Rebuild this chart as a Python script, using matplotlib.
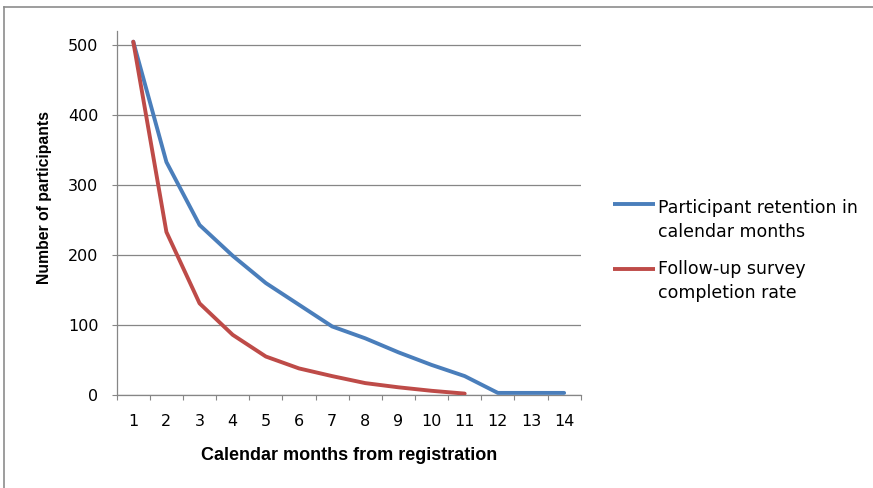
import numpy as np
import matplotlib.pyplot as plt
from matplotlib.lines import Line2D

# Participants remaining per calendar month since registration
months = [1, 2, 3, 4, 5, 6, 7, 8, 9, 10, 11, 12, 13, 14]
retention = [505, 333, 243, 199, 160, 129, 98, 81, 61, 43, 27, 3, 3, 3]

# Follow-up survey completions (only recorded up to month 11)
survey_months = [1, 2, 3, 4, 5, 6, 7, 8, 9, 10, 11]
survey = [505, 233, 131, 86, 55, 38, 27, 17, 11, 6, 2]

y_ticks = [0, 100, 200, 300, 400, 500]

series_names = ["Participant retention in\ncalendar months",
                "Follow-up survey\ncompletion rate"]
colors = ["#4A7EBB", "#BE4B48"]
grey = "#868686"

W, H = 873, 488
fig = plt.figure(figsize=(W / 100, H / 100), dpi=100, facecolor="white")


def fx(px):
    return px / W


def fy(py):
    return 1 - py / H


# plot area in pixel terms: left 116.7, right 580.7, top 30.5, bottom 395
ax = fig.add_axes([fx(116.7), fy(395), (580.7 - 116.7) / W, (395 - 30.5) / H])

ax.plot(months, retention, color=colors[0], lw=2.8, solid_capstyle="round",
        solid_joinstyle="round", zorder=3)
ax.plot(survey_months, survey, color=colors[1], lw=2.8, solid_capstyle="round",
        solid_joinstyle="round", zorder=3)

ax.set_xlim(0.5, 14.5)
ax.set_ylim(0, 521)

# category labels sit between the tick marks
ax.set_xticks(months)
ax.set_xticklabels([str(m) for m in months])
ax.set_xticks(np.arange(0.5, 15, 1), minor=True)
ax.tick_params(axis="x", which="major", length=0, pad=13.5, labelsize=11.5,
               labelcolor="black")
ax.tick_params(axis="x", which="minor", length=3.6, width=0.8, color=grey,
               direction="out")

ax.set_yticks(y_ticks)
ax.tick_params(axis="y", length=3.6, width=0.8, color=grey, direction="out",
               pad=9.5, labelsize=11.5, labelcolor="black")

ax.yaxis.grid(True, color=grey, lw=0.9)
ax.set_axisbelow(True)

for side in ["top", "right"]:
    ax.spines[side].set_visible(False)
for side in ["left", "bottom"]:
    ax.spines[side].set_color(grey)
    ax.spines[side].set_linewidth(0.9)

ax.set_xlabel("Calendar months from registration", fontsize=13,
              fontweight="bold", family="Liberation Sans")
ax.xaxis.set_label_coords(0.5, -(456 - 395) / (395 - 30.5))
ax.xaxis.label.set_va("center")

ax.set_ylabel("Number of participants", fontsize=11.3, fontweight="bold",
              family="Liberation Sans")
ax.yaxis.set_label_coords((45 - 116.7) / 464, (395 - 197) / 364.5)
ax.yaxis.label.set_va("center")

# legend drawn by hand so the swatch lines up with the first text line
legend_rows = [(204, 213), (269, 274)]
for (line_y, base_y), name, c in zip(legend_rows, series_names, colors):
    fig.add_artist(Line2D([fx(613), fx(655)], [fy(line_y), fy(line_y)],
                          color=c, lw=2.8, solid_capstyle="butt"))
    for i, part in enumerate(name.split("\n")):
        fig.text(fx(658), fy(base_y + i * 23.5), part, fontsize=12.5,
                 va="baseline", ha="left", color="black")

# outer chart frame (left and top edges)
fig.add_artist(Line2D([fx(4), fx(4)], [fy(7), 0], color="#8c8c8c", lw=1.2))
fig.add_artist(Line2D([fx(4), 1], [fy(7), fy(7)], color="#8c8c8c", lw=1.2))

fig.savefig("out.png", dpi=100, facecolor="white")
